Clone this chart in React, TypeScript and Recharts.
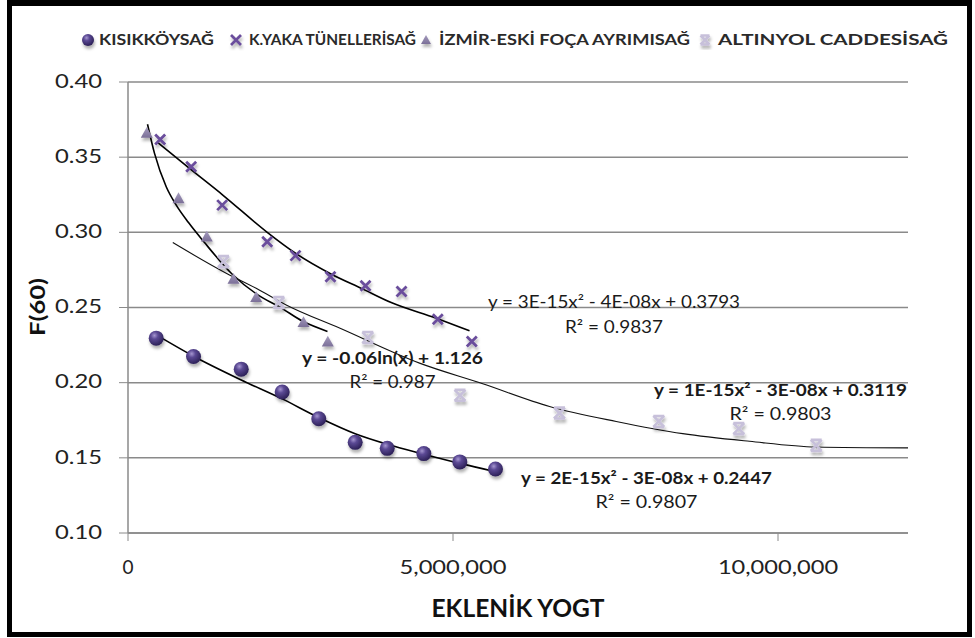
import React from "react";
import { ComposedChart, Scatter, Line, XAxis, YAxis, CartesianGrid } from "recharts";

// series names (legend)
const seriesNames = [
  "KISIKKÖYSAĞ",
  "K.YAKA TÜNELLERİSAĞ",
  "İZMİR-ESKİ FOÇA AYRIMISAĞ",
  "ALTINYOL CADDESİSAĞ",
];

// measured points
const kisikX = [434000, 1008000, 1742000, 2372000, 2935000, 3495000, 3988000, 4551000, 5105000, 5654000];
const kisikY = [0.2296, 0.2174, 0.209, 0.1938, 0.176, 0.1603, 0.1563, 0.1528, 0.1473, 0.1426];

const kyakaX = [495000, 972000, 1449000, 2142000, 2577000, 3115000, 3654000, 4208000, 4766000, 5289000];
const kyakaY = [0.3618, 0.3436, 0.3181, 0.2938, 0.2845, 0.2705, 0.2645, 0.2606, 0.2422, 0.2274];

const izmirX = [289000, 777000, 1212000, 1623000, 1972000, 2700000, 3074000];
const izmirY = [0.3661, 0.3226, 0.2971, 0.269, 0.2568, 0.2402, 0.2272];

const altinX = [1469000, 2320000, 3689000, 5108000, 6638000, 8166000, 9397000, 10588000];
const altinY = [0.2805, 0.2533, 0.23, 0.1916, 0.1798, 0.1742, 0.1694, 0.1583];

// trend lines
const kisikTrendX = [434000, 1008000, 1742000, 2372000, 2935000, 3495000, 3988000, 4551000, 5105000, 5654000];
const kisikTrendY = [0.2318, 0.2176, 0.2018, 0.1892, 0.1768, 0.166, 0.159, 0.1524, 0.1463, 0.1408];

const kyakaTrendX = [450000, 946000, 1458000, 2142000, 2577000, 3115000, 3608000, 4049000, 4742000, 5254000];
const kyakaTrendY = [0.36, 0.3425, 0.3248, 0.3, 0.2861, 0.2725, 0.2624, 0.2533, 0.2429, 0.2345];

const izmirTrendX = [300000, 408000, 588000, 742000, 931000, 1177000, 1600000, 1997000, 2331000, 2689000, 3069000];
const izmirTrendY = [0.3719, 0.3525, 0.3303, 0.3181, 0.3065, 0.2932, 0.2723, 0.2584, 0.2504, 0.2408, 0.2341];

const altinTrendX = [689000, 1511000, 1972000, 2434000, 3254000, 4485000, 5458000, 6485000, 7511000, 8535000, 9562000, 10588000, 12000000];
const altinTrendY = [0.2932, 0.2728, 0.2628, 0.2517, 0.2363, 0.213, 0.1993, 0.1842, 0.1742, 0.1661, 0.161, 0.1572, 0.1566];

// trendline equations
const equations = [
  ["y = 3E-15x² - 4E-08x + 0.3793", "R² = 0.9837"],
  ["y = -0.06ln(x) + 1.126", "R² = 0.987"],
  ["y = 1E-15x² - 3E-08x + 0.3119", "R² = 0.9803"],
  ["y = 2E-15x² - 3E-08x + 0.2447", "R² = 0.9807"],
];

const xTicks = [0, 5000000, 10000000];
const yTicks = [0.1, 0.15, 0.2, 0.25, 0.3, 0.35, 0.4];

const toPoints = (xs: number[], ys: number[]) => xs.map((x, i) => ({ x, y: ys[i] }));

const FONT = "Lato, 'Open Sans', sans-serif";

const Ball = (p: any) => (
  <circle cx={p.cx} cy={p.cy} r={p.r || 7.5} fill="url(#ballGrad)" filter="url(#mshadow)" />
);

const Cross = (p: any) => {
  const s = p.s || 5;
  const { cx, cy } = p;
  return (
    <path
      d={`M${cx - s},${cy - s}L${cx + s},${cy + s}M${cx - s},${cy + s}L${cx + s},${cy - s}`}
      stroke="#6a4e9c"
      strokeWidth={2.8}
      fill="none"
      filter="url(#mshadow)"
    />
  );
};

const Tri = (p: any) => {
  const s = p.s || 6;
  const { cx, cy } = p;
  return (
    <polygon
      points={`${cx},${cy - s} ${cx + s},${cy + s * 0.8} ${cx - s},${cy + s * 0.8}`}
      fill="url(#triGrad)"
      filter="url(#mshadow)"
    />
  );
};

const Star = (p: any) => {
  const s = p.s || 5.5;
  const { cx, cy } = p;
  return (
    <path
      d={`M${cx - s},${cy - s}L${cx + s},${cy + s}M${cx - s},${cy + s}L${cx + s},${cy - s}M${cx - s},${cy - s}H${cx + s}M${cx - s},${cy + s}H${cx + s}`}
      stroke="#c7c0da"
      strokeWidth={2.6}
      fill="none"
      filter="url(#mshadow)"
    />
  );
};

const YTick = (props: any) => {
  const { x, y, payload } = props;
  return (
    <text x={x} y={y} dy="0.3em" textAnchor="end" fontSize={19} fill="#222" fontFamily={FONT}
      textLength={47} lengthAdjust="spacingAndGlyphs">
      {Number(payload.value).toFixed(2)}
    </text>
  );
};

const XTick = (props: any) => {
  const { x, y, payload } = props;
  const label = Number(payload.value).toLocaleString("en-US");
  const digits = label.replace(/,/g, "").length;
  const commas = label.length - digits;
  const w = digits * 13.2 + commas * 7.3;
  return (
    <text x={x} y={y} dy="0.71em" textAnchor="middle" fontSize={19} fill="#222" fontFamily={FONT}
      textLength={label.length > 1 ? w : undefined} lengthAdjust="spacingAndGlyphs">
      {label}
    </text>
  );
};

const legendLayout = [
  { mx: 88, tx: 99, tw: 115 },
  { mx: 236, tx: 249, tw: 167 },
  { mx: 426, tx: 439, tw: 251 },
  { mx: 705, tx: 718, tw: 230 },
];
const legendShapes = [Ball, Cross, Tri, Star];

const eqLayout = [
  { cx: 614, y1: 302, y2: 326.5, w1: 252, w2: 98, bold: false },
  { cx: 392.5, y1: 357.5, y2: 382, w1: 181, w2: 86, bold: true },
  { cx: 780.5, y1: 389.5, y2: 413.5, w1: 253, w2: 102, bold: true },
  { cx: 646.5, y1: 478, y2: 502, w1: 251, w2: 102, bold: true },
];

export default function App() {
  return (
    <div style={{ position: "absolute", left: 0, top: 0, width: 975, height: 638, background: "#fff" }}>
      <svg width={0} height={0} style={{ position: "absolute" }}>
        <defs>
          <radialGradient id="ballGrad" cx="38%" cy="32%" r="70%">
            <stop offset="0%" stopColor="#a596d0" />
            <stop offset="35%" stopColor="#5b4994" />
            <stop offset="100%" stopColor="#2b1f55" />
          </radialGradient>
          <linearGradient id="triGrad" x1="0" y1="0" x2="0" y2="1">
            <stop offset="0%" stopColor="#a49bbd" />
            <stop offset="100%" stopColor="#7b6f98" />
          </linearGradient>
          <filter id="mshadow" x="-60%" y="-60%" width="220%" height="220%">
            <feDropShadow dx="1" dy="3" stdDeviation="1.6" floodColor="#000" floodOpacity="0.3" />
          </filter>
        </defs>
      </svg>
      <ComposedChart width={975} height={638} margin={{ top: 82, right: 67, left: 0, bottom: 0 }}>
        <CartesianGrid vertical={false} stroke="#8a8a8a" strokeWidth={1.5} />
        <XAxis
          type="number"
          dataKey="x"
          domain={[0, 12000000]}
          ticks={xTicks}
          allowDataOverflow
          height={105}
          axisLine={{ stroke: "#8a8a8a", strokeWidth: 1.5 }}
          tickLine={{ stroke: "#8a8a8a" }}
          tickSize={8}
          tickMargin={20}
          tick={<XTick />}
        />
        <YAxis
          type="number"
          dataKey="y"
          domain={[0.1, 0.4]}
          ticks={yTicks}
          allowDataOverflow
          width={128}
          axisLine={{ stroke: "#8a8a8a", strokeWidth: 1.5 }}
          tickLine={{ stroke: "#8a8a8a" }}
          tickSize={9}
          tickMargin={17}
          tick={<YTick />}
        />
        <Scatter name={seriesNames[0]} data={toPoints(kisikX, kisikY)} shape={Ball} isAnimationActive={false} />
        <Scatter name={seriesNames[1]} data={toPoints(kyakaX, kyakaY)} shape={Cross} isAnimationActive={false} />
        <Scatter name={seriesNames[2]} data={toPoints(izmirX, izmirY)} shape={Tri} isAnimationActive={false} />
        <Scatter name={seriesNames[3]} data={toPoints(altinX, altinY)} shape={Star} isAnimationActive={false} />
        <Line data={toPoints(kisikTrendX, kisikTrendY)} dataKey="y" type="monotone" stroke="#000" strokeWidth={1.6}
          dot={false} activeDot={false} isAnimationActive={false} />
        <Line data={toPoints(kyakaTrendX, kyakaTrendY)} dataKey="y" type="monotone" stroke="#000" strokeWidth={1.6}
          dot={false} activeDot={false} isAnimationActive={false} />
        <Line data={toPoints(izmirTrendX, izmirTrendY)} dataKey="y" type="monotone" stroke="#000" strokeWidth={1.6}
          dot={false} activeDot={false} isAnimationActive={false} />
        <Line data={toPoints(altinTrendX, altinTrendY)} dataKey="y" type="monotone" stroke="#111" strokeWidth={1.1}
          dot={false} activeDot={false} isAnimationActive={false} />
      </ComposedChart>

      <svg width={975} height={638} style={{ position: "absolute", left: 0, top: 0, pointerEvents: "none" }}>
        {seriesNames.map((name, i) => {
          const L = legendLayout[i];
          const Shape = legendShapes[i];
          return (
            <g key={name}>
              <Shape cx={L.mx} cy={40} r={6} s={i === 3 ? 4.5 : 5} />
              <text x={L.tx} y={40} dy="0.36em" fontSize={15} fontWeight="bold" fill="#2a2a2a" fontFamily={FONT}
                textLength={L.tw} lengthAdjust="spacingAndGlyphs">
                {name}
              </text>
            </g>
          );
        })}
        {equations.map((eq, i) => {
          const E = eqLayout[i];
          return (
            <g key={eq[0]} fontFamily={FONT} fill="#1a1a1a" textAnchor="middle">
              <text x={E.cx} y={E.y1} dy="0.36em" fontSize={17} fontWeight={E.bold ? "bold" : "normal"}
                textLength={E.w1} lengthAdjust="spacingAndGlyphs">{eq[0]}</text>
              <text x={E.cx} y={E.y2} dy="0.36em" fontSize={17}
                textLength={E.w2} lengthAdjust="spacingAndGlyphs">{eq[1]}</text>
            </g>
          );
        })}
        <text x={518} y={608} dy="0.36em" textAnchor="middle" fontSize={24} fontWeight="bold" fill="#111"
          fontFamily={FONT} textLength={173} lengthAdjust="spacingAndGlyphs">EKLENİK YOGT</text>
        <text transform="translate(38,307) rotate(-90)" dy="0.36em" textAnchor="middle" fontSize={20} fontWeight="bold"
          fill="#111" fontFamily={FONT} textLength={58} lengthAdjust="spacingAndGlyphs">F(60)</text>
      </svg>

      <div style={{
        position: "absolute", left: 7, top: 0, width: 965, height: 637, boxSizing: "border-box",
        borderStyle: "solid", borderColor: "#000", borderWidth: "6px 5px 5px 5px", pointerEvents: "none",
      }} />
    </div>
  );
}
